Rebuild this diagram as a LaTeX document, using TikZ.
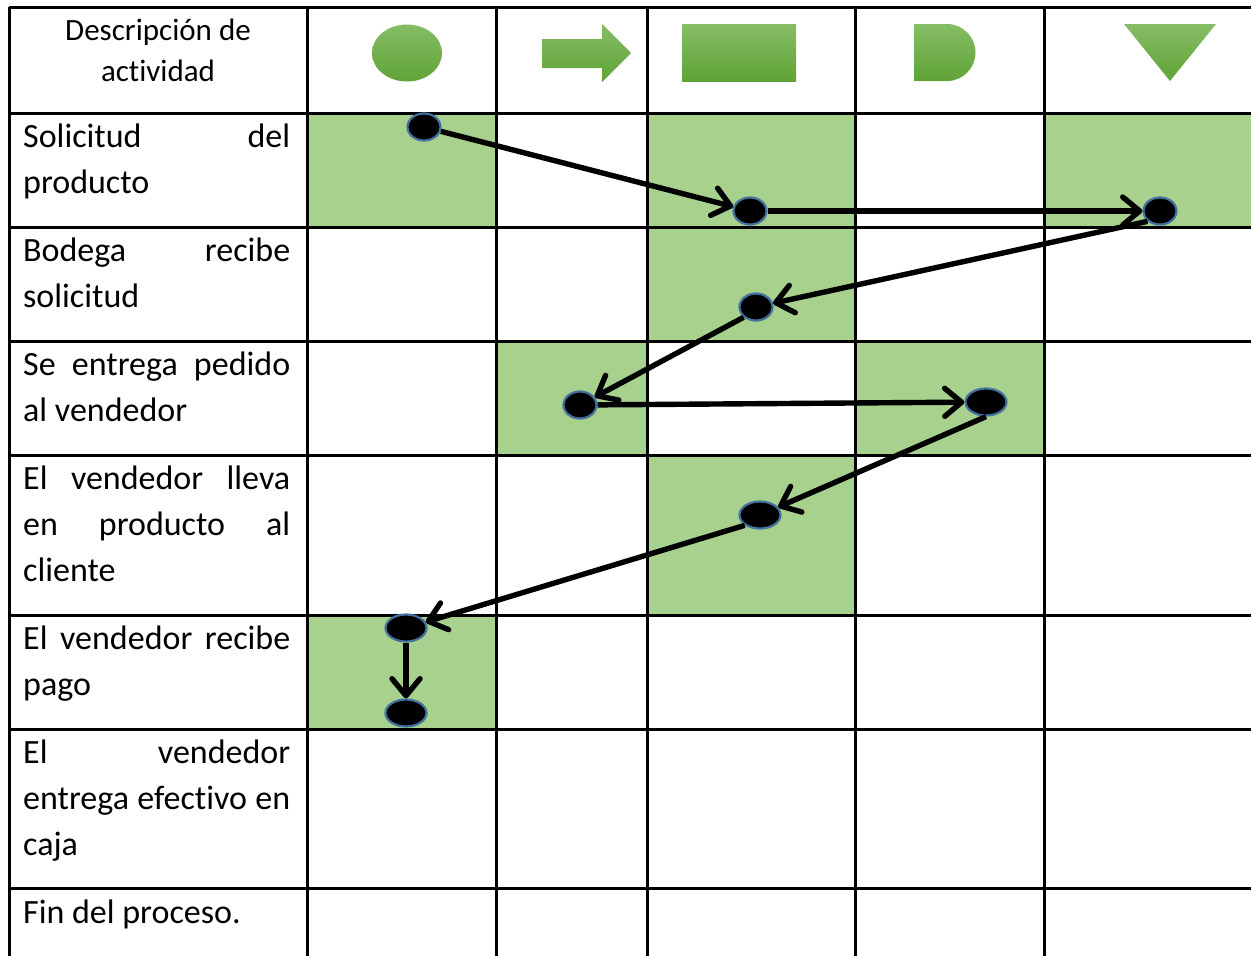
\documentclass[tikz,border=0pt]{standalone}
\usepackage{fontspec}
\setmainfont{Carlito}[Ligatures={NoCommon}]
\usetikzlibrary{arrows.meta,shapes.geometric}

\definecolor{cellgreen}{RGB}{169,209,142}
\definecolor{symtop}{RGB}{134,189,102}
\definecolor{symbot}{RGB}{96,163,54}
\definecolor{dotrim}{RGB}{65,113,156}

\tikzset{
  gridline/.style={line width=3pt, black},
  greencell/.style={fill=cellgreen},
  symbol/.style={top color=symtop, bottom color=symbot},
  dotnode/.style={ellipse, draw=dotrim, line width=2.2pt, fill=black, inner sep=0pt,
                  minimum width=33pt, minimum height=27pt},
  widedot/.style={dotnode, minimum width=41pt},
  flow/.style={line width=5.4pt, black, -{Straight Barb[length=17pt,width=28pt,line cap=round,line join=round]}},
  rowtext/.style={anchor=base west, inner sep=0pt, font=\fontsize{34}{40}\selectfont},
  headtext/.style={anchor=base, inner sep=0pt, font=\fontsize{31}{36}\selectfont}
}

\newcommand{\jline}[1]{\makebox[267pt][s]{#1}}

\begin{document}
\begin{tikzpicture}[x=1pt,y=-1pt]
\useasboundingbox (0,0) rectangle (1251,956);
\fill[white] (0,0) rectangle (1251,956);

% shaded activity cells
\fill[greencell] (307,113) rectangle (496,227);
\fill[greencell] (647,113) rectangle (855,227);
\fill[greencell] (1044,113) rectangle (1251,227);
\fill[greencell] (647,227) rectangle (855,341);
\fill[greencell] (496,341) rectangle (647,455);
\fill[greencell] (855,341) rectangle (1044,455);
\fill[greencell] (647,455) rectangle (855,615);
\fill[greencell] (307,615) rectangle (496,729);

% table rules
\foreach \gx in {9,307,496,647,855,1044}
  \draw[gridline] (\gx,7) -- (\gx,956);
\foreach \gy in {7,113,227,341,455,615,729,888}
  \draw[gridline] (9,\gy) -- (1251,\gy);

% header symbols
\shade[symbol] (407,53) ellipse [x radius=35, y radius=28.5];
\shade[symbol] (542,39) -- (602,39) -- (602,24) -- (631,53) -- (602,82) -- (602,68) -- (542,68) -- cycle;
\shade[symbol] (682,24) rectangle (796,81);
\shade[symbol] (914,24) -- (947,24) arc[start angle=-90, end angle=90, radius=28.5] -- (914,81) -- cycle;
\shade[symbol] (1124,24) -- (1216,24) -- (1170,81) -- cycle;

% header text
\node[headtext] (h1) at (158,40) {Descripción de};
\node[headtext] (h2) at (158,81) {actividad};

% activity descriptions
\node[rowtext] (r1a) at (23,147) {\jline{Solicitud del}};
\node[rowtext] (r1b) at (23,193) {producto};
\node[rowtext] (r2a) at (23,261) {\jline{Bodega recibe}};
\node[rowtext] (r2b) at (23,307) {solicitud};
\node[rowtext] (r3a) at (23,375) {\jline{Se entrega pedido}};
\node[rowtext] (r3b) at (23,421) {al vendedor};
\node[rowtext] (r4a) at (23,489) {\jline{El vendedor lleva}};
\node[rowtext] (r4b) at (23,535) {\jline{en producto al}};
\node[rowtext] (r4c) at (23,581) {cliente};
\node[rowtext] (r5a) at (23,649) {\jline{El vendedor recibe}};
\node[rowtext] (r5b) at (23,695) {pago};
\node[rowtext] (r6a) at (23,763) {\jline{El vendedor}};
\node[rowtext] (r6b) at (23,809) {\jline{entrega efectivo en}};
\node[rowtext] (r6c) at (23,855) {caja};
\node[rowtext] (r7a) at (23,923) {Fin del proceso.};

% process points
\node[dotnode] (d1) at (424,127) {};
\node[dotnode] (d2) at (750,211) {};
\node[dotnode] (d3) at (1160,211) {};
\node[dotnode] (d4) at (756,307) {};
\node[dotnode] (d5) at (580,405) {};
\node[widedot] (d6) at (986,402) {};
\node[widedot] (d7) at (760,515) {};
\node[widedot] (d8) at (406,628) {};
\node[widedot] (d9) at (406,713) {};

% flow between points
\draw[flow] (d1) -- (d2);
\draw[flow] (d2) -- (d3);
\draw[flow] (d3.south west) -- (d4);
\draw[flow] (d4.south west) -- (d5);
\draw[flow] (d5) -- (d6);
\draw[flow] (d6.south) -- (d7);
\draw[flow] (d7.south west) -- (d8);
\draw[flow] (d8) -- (d9);
\end{tikzpicture}
\end{document}
